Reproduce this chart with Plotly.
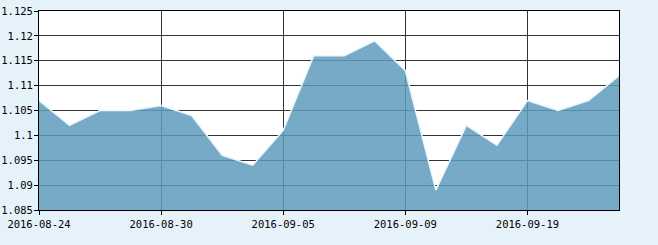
import plotly.graph_objects as go

dates = ["2016-08-24", "2016-08-25", "2016-08-26", "2016-08-29", "2016-08-30",
         "2016-08-31", "2016-09-01", "2016-09-02", "2016-09-05", "2016-09-06",
         "2016-09-07", "2016-09-08", "2016-09-09", "2016-09-12", "2016-09-13",
         "2016-09-14", "2016-09-19", "2016-09-20", "2016-09-21", "2016-09-22"]
values = [1.107, 1.102, 1.105, 1.105, 1.106, 1.104, 1.096, 1.094, 1.101, 1.116,
          1.116, 1.119, 1.113, 1.089, 1.102, 1.098, 1.107, 1.105, 1.107, 1.112]
x_ticks = ["2016-08-24", "2016-08-30", "2016-09-05", "2016-09-09", "2016-09-19"]
y_ticks = [1.085, 1.09, 1.095, 1.1, 1.105, 1.11, 1.115, 1.12, 1.125]

fig = go.Figure()
fig.add_trace(go.Scatter(
    x=dates, y=values, mode="lines", fill="tozeroy",
    fillcolor="rgba(94,155,188,0.85)",
    line=dict(color="#eaf5fc", width=1.5),
    hoverinfo="x+y",
))

font = dict(family="DejaVu Sans Mono", size=10.5, color="#000000")
fig.update_layout(
    width=658, height=245,
    margin=dict(l=39, r=39, t=11, b=35),
    paper_bgcolor="#e6f2fa",
    plot_bgcolor="#ffffff",
    showlegend=False,
    font=font,
    xaxis=dict(
        type="category", range=[0, len(dates) - 1], automargin=False,
        tickmode="array", tickvals=x_ticks, ticktext=x_ticks,
        showgrid=True, gridcolor="#333333", gridwidth=1,
        showline=True, linecolor="#000000", linewidth=1, mirror=True,
        ticks="outside", ticklen=4, tickcolor="#000000",
        tickfont=font, zeroline=False,
    ),
    yaxis=dict(
        range=[1.085, 1.125], automargin=False,
        tickmode="array", tickvals=y_ticks,
        ticktext=[("%g" % v) for v in y_ticks],
        showgrid=True, gridcolor="#333333", gridwidth=1,
        showline=True, linecolor="#000000", linewidth=1, mirror=True,
        ticks="outside", ticklen=4, tickcolor="#000000",
        tickfont=font, zeroline=False, ticklabelstandoff=-1,
    ),
)

fig.write_html("out.html")
